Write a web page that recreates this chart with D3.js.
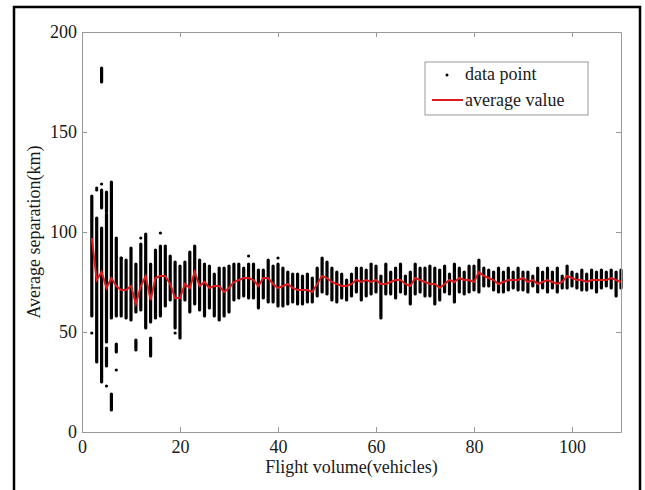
<!DOCTYPE html>
<html>
<head>
<meta charset="utf-8">
<script src="https://cdn.jsdelivr.net/npm/d3@7"></script>
<style>
  body { margin: 0; background: #fff; }
  text { font-family: "Liberation Serif", "Times New Roman", serif; fill: #1a1a1a; }
</style>
</head>
<body>
<svg width="645" height="490"></svg>
<script>
// main column of stacked points for each flight volume
const colX = d3.range(2, 111);
const colHi = [118,107,102,109,125,97,87,86,92,84,94,99,84,91,93,93,88,85,83,85,90,93,86,84,
  83,79,82,82,83,84,84,82,84,84,81,81,86,83,84,82,80,79,79,78,79,77,82,87,85,82,80,79,76,79,
  82,82,81,84,83,78,84,80,82,84,78,80,84,82,82,83,82,81,83,79,84,82,80,83,83,86,82,81,80,82,
  80,82,80,82,80,80,78,82,80,82,80,82,78,83,80,79,81,79,81,80,81,80,81,80,81];
const colLo = [58,35,25,45,57,58,58,57,56,60,61,52,55,57,58,63,66,52,47,66,60,64,61,58,
  62,58,56,58,60,66,67,68,67,67,62,67,65,65,63,63,64,65,64,64,65,65,68,70,69,66,65,67,66,68,
  70,66,68,69,70,57,69,69,67,70,69,64,69,70,68,68,64,66,70,69,65,70,69,70,71,70,73,73,71,70,
  70,71,72,71,71,70,73,70,72,70,72,70,72,72,73,72,71,71,72,70,72,73,72,68,72];
// detached pieces of a column
const segX  = [4, 4, 5, 5, 6, 7, 11, 14];
const segHi = [121, 182, 42, 120, 19, 44, 46, 47];
const segLo = [112, 175, 33, 110, 11, 40, 41, 38];
// isolated points
const outX = [2, 3, 3, 4, 5, 7, 8, 12, 16, 19, 34, 40];
const outY = [49.5, 122, 121, 124, 23, 31, 87, 97, 99.5, 49.5, 88, 87];
// average value per flight volume
const avg = [97,76,80,72,77,73,71,71,73,64,73,78,66,77,78,78,74,67,67,74,72,80,73,75,
  72,73,73,70,72,75,76,77,77,76,73,77,77,74,72,73,74,72,71,71,71,70,74,78,77,75,74,73,73,74,
  76,75,76,75,76,74,74,75,76,76,74,73,77,76,75,74,74,72,74,76,75,77,76,76,75,80,78,77,76,74,
  75,76,76,76,77,75,76,74,75,76,75,74,75,78,77,76,76,75,76,76,76,76,77,76,75];
const xTicks = [0, 20, 40, 60, 80, 100];
const yTicks = [0, 50, 100, 150, 200];

const svg = d3.select('svg');
const m = {left: 82, right: 621, top: 32, bottom: 432};

const x = d3.scaleLinear().domain([0, 110]).range([m.left, m.right]);
const y = d3.scaleLinear().domain([0, 200]).range([m.bottom, m.top]);

// outer frame
svg.append('rect')
    .attr('x', 14).attr('y', 7).attr('width', 626).attr('height', 500)
    .attr('fill', 'none').attr('stroke', '#000').attr('stroke-width', 2.5);

const plot = svg.append('g');

const cols = colX.map((v, i) => ({x: v, hi: colHi[i], lo: colLo[i]}))
  .concat(segX.map((v, i) => ({x: v, hi: segHi[i], lo: segLo[i]})));

plot.selectAll('line.col').data(cols).join('line')
    .attr('class', 'col')
    .attr('x1', d => x(d.x)).attr('x2', d => x(d.x))
    .attr('y1', d => y(d.hi)).attr('y2', d => y(d.lo))
    .attr('stroke', '#000').attr('stroke-width', 3.2)
    .attr('stroke-linecap', 'round');

plot.selectAll('circle.out').data(outX.map((v, i) => [v, outY[i]])).join('circle')
    .attr('class', 'out')
    .attr('cx', d => x(d[0])).attr('cy', d => y(d[1]))
    .attr('r', 1.6).attr('fill', '#000');

plot.append('path')
    .datum(colX.map((v, i) => [v, avg[i]]))
    .attr('d', d3.line().x(d => x(d[0])).y(d => y(d[1])))
    .attr('fill', 'none').attr('stroke', '#e01b1b').attr('stroke-width', 2);

// axes, MATLAB-style box with inward ticks
const grey = '#999';
const axB = svg.append('g').attr('transform', `translate(0,${m.bottom})`)
    .call(d3.axisBottom(x).tickValues(xTicks).tickSizeInner(-5).tickSizeOuter(0).tickPadding(8));
const axL = svg.append('g').attr('transform', `translate(${m.left},0)`)
    .call(d3.axisLeft(y).tickValues(yTicks).tickSizeInner(-5).tickSizeOuter(0).tickPadding(5));
const axT = svg.append('g').attr('transform', `translate(0,${m.top})`)
    .call(d3.axisTop(x).tickValues(xTicks).tickSizeInner(-5).tickSizeOuter(0).tickFormat(''));
const axR = svg.append('g').attr('transform', `translate(${m.right},0)`)
    .call(d3.axisRight(y).tickValues(yTicks).tickSizeInner(-5).tickSizeOuter(0).tickFormat(''));

[axB, axL, axT, axR].forEach(a => {
  a.select('.domain').attr('stroke', grey);
  a.selectAll('.tick line').attr('stroke', grey);
  a.selectAll('.tick text').style('font-family', '"Liberation Serif", serif')
      .style('font-size', '18px').attr('fill', '#1a1a1a');
});
axL.selectAll('.tick text').attr('dy', '0.3em');

svg.append('text')
    .attr('x', (m.left + m.right) / 2).attr('y', 473)
    .attr('text-anchor', 'middle').style('font-size', '18px')
    .text('Flight volume(vehicles)');

svg.append('text')
    .attr('transform', `translate(40,${(m.top + m.bottom) / 2}) rotate(-90)`)
    .attr('text-anchor', 'middle').style('font-size', '18px')
    .text('Average separation(km)');

// legend
const lg = svg.append('g');
lg.append('rect')
    .attr('x', 425).attr('y', 62).attr('width', 163).attr('height', 53)
    .attr('fill', '#fff').attr('stroke', grey);
lg.append('circle').attr('cx', 447).attr('cy', 75).attr('r', 1.5).attr('fill', '#000');
lg.append('line').attr('x1', 432).attr('x2', 463).attr('y1', 100).attr('y2', 100)
    .attr('stroke', '#e01b1b').attr('stroke-width', 2);
lg.append('text').attr('x', 465).attr('y', 80).style('font-size', '18px').text('data point');
lg.append('text').attr('x', 465).attr('y', 106).style('font-size', '18px').text('average value');
</script>
</body>
</html>
